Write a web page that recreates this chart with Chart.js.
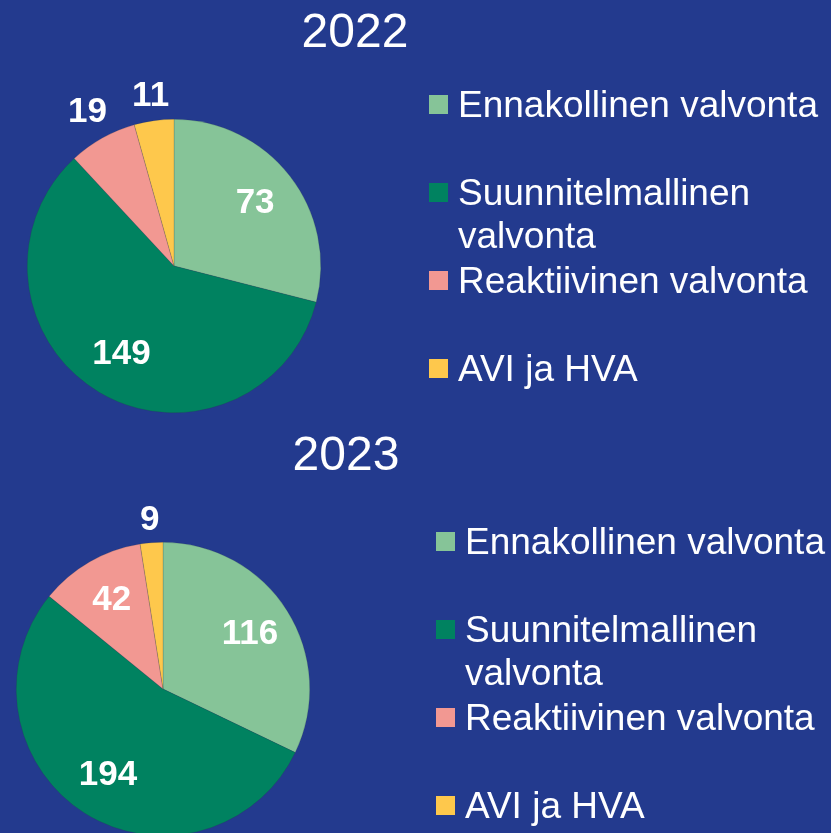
<!DOCTYPE html>
<html>
<head>
<meta charset="utf-8">
<script src="https://cdn.jsdelivr.net/npm/chart.js@4/dist/chart.umd.min.js"></script>
<style>
  html, body { margin: 0; padding: 0; }
  body { width: 831px; height: 833px; background: #233a8e; overflow: hidden; position: relative;
         font-family: "Liberation Sans", Arial, sans-serif; color: #fff; }
  .box { position: absolute; left: 0; width: 831px; overflow: hidden; }
  .legend { position: absolute; }
  .legend-item { position: absolute; width: 420px; font-size: 37px; line-height: 43px; }
  .legend-item .swatch { position: absolute; width: 19px; height: 19px; top: 12px; }
  .legend-item .text { position: absolute; left: 29px; width: 395px; }
</style>
</head>
<body>
<div class="box" style="top:0;height:416px"><div style="position:relative;width:831px;height:416px"><canvas id="pie2022"></canvas></div></div>
<div class="box" style="top:416px;height:417px"><div style="position:relative;width:831px;height:430px"><canvas id="pie2023"></canvas></div></div>
<div class="legend" id="legend2022" style="left:429px;top:83px"></div>
<div class="legend" id="legend2023" style="left:436px;top:520px"></div>
<script>
const categories = ['Ennakollinen valvonta', 'Suunnitelmallinen valvonta', 'Reaktiivinen valvonta', 'AVI ja HVA'];
const values2022 = [73, 149, 19, 11];
const values2023 = [116, 194, 42, 9];
const sliceColors = ['#86c498', '#008260', '#f29892', '#fec84c'];

// value labels: inside big slices, outside small ones
const sliceLabels = {
  id: 'sliceLabels',
  afterDatasetsDraw(chart) {
    const ctx = chart.ctx;
    const data = chart.data.datasets[0].data;
    const total = data.reduce((a, b) => a + b, 0);
    ctx.save();
    ctx.font = 'bold 35px "Liberation Sans", Arial, sans-serif';
    ctx.fillStyle = '#ffffff';
    ctx.textAlign = 'center';
    ctx.textBaseline = 'middle';
    chart.getDatasetMeta(0).data.forEach((arc, i) => {
      const p = arc.getProps(['x', 'y', 'startAngle', 'endAngle', 'outerRadius'], true);
      const mid = (p.startAngle + p.endAngle) / 2;
      const cos = Math.cos(mid), sin = Math.sin(mid);
      const text = String(data[i]);
      let dist;
      if (data[i] / total < 0.1) {
        const w = ctx.measureText(text).width;
        dist = p.outerRadius + 10 + Math.abs(cos) * w / 2 + Math.abs(sin) * 12;
      } else {
        dist = p.outerRadius * 0.7;
      }
      ctx.fillText(text, p.x + cos * dist, p.y + sin * dist);
    });
    ctx.restore();
  }
};

const yearTitle = {
  id: 'yearTitle',
  afterDraw(chart, args, opts) {
    const ctx = chart.ctx;
    ctx.save();
    ctx.font = '48px "Liberation Sans", Arial, sans-serif';
    ctx.fillStyle = '#ffffff';
    ctx.textAlign = 'center';
    ctx.textBaseline = 'middle';
    ctx.fillText(opts.text, opts.x, opts.y);
    ctx.restore();
  }
};

function makePie(id, values, year, padding, titlePos) {
  return new Chart(document.getElementById(id), {
    type: 'pie',
    data: {
      labels: categories,
      datasets: [{
        data: values,
        backgroundColor: sliceColors,
        borderColor: 'rgba(40,50,60,0.35)',
        borderWidth: 0.5
      }]
    },
    options: {
      responsive: true,
      maintainAspectRatio: false,
      animation: false,
      layout: { padding: padding },
      plugins: {
        legend: { display: false },
        tooltip: { enabled: false },
        yearTitle: { text: year, x: titlePos.x, y: titlePos.y }
      }
    },
    plugins: [sliceLabels, yearTitle]
  });
}

function buildLegend(id) {
  const el = document.getElementById(id);
  categories.forEach((label, i) => {
    const item = document.createElement('div');
    item.className = 'legend-item';
    item.style.top = (i * 88) + 'px';
    const sw = document.createElement('div');
    sw.className = 'swatch';
    sw.style.background = sliceColors[i];
    const tx = document.createElement('div');
    tx.className = 'text';
    tx.textContent = label;
    item.appendChild(sw);
    item.appendChild(tx);
    el.appendChild(item);
  });
}

makePie('pie2022', values2022, '2022', { left: 27, right: 510, top: 119, bottom: 3 }, { x: 355, y: 34 });
makePie('pie2023', values2023, '2023', { left: 16, right: 521, top: 126, bottom: 10 }, { x: 346, y: 41 });
buildLegend('legend2022');
buildLegend('legend2023');
</script>
</body>
</html>
